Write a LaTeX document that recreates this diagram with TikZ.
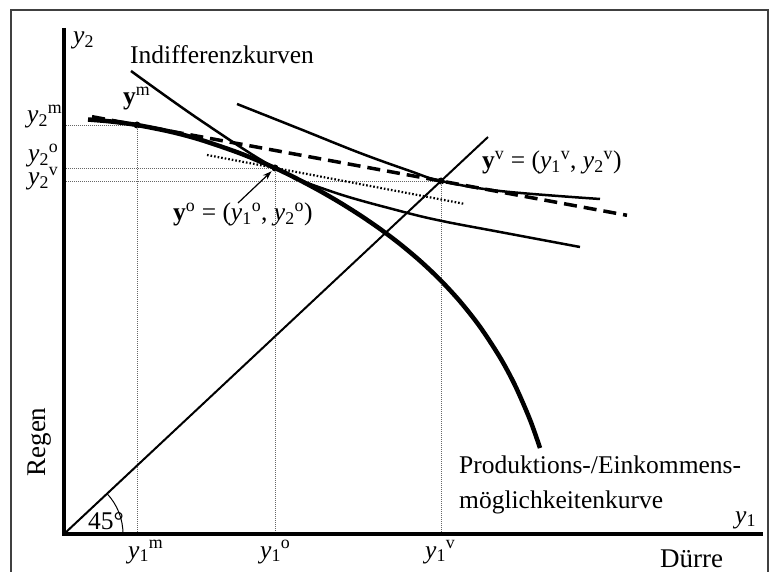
\documentclass[tikz,border=0pt]{standalone}
\usepackage{fontspec}
\setmainfont{Liberation Serif}
\usetikzlibrary{arrows.meta}
\newcommand\yvar[2]{\textit{y}\textsubscript{#1}\textsuperscript{#2}}
\begin{document}
\begin{tikzpicture}[x=1pt,y=-1pt,
  font=\fontsize{25.5}{30}\selectfont,
  axis/.style={line width=3.3pt},
  ppf/.style={line width=4.5pt},
  ic/.style={line width=2.5pt},
  diag/.style={line width=2pt},
  guide/.style={line width=0.8pt, black!60, dash pattern=on 1pt off 1pt},
  budget/.style={line width=3.5pt, dash pattern=on 13pt off 7pt},
  tangent/.style={line width=2.2pt, dash pattern=on 1.6pt off 2pt},
  dot/.style={circle, fill, inner sep=0pt, minimum size=7pt},
  lbl/.style={inner sep=0pt},
  frame/.style={black!75, line width=1.6pt}]
\useasboundingbox (0,0) rectangle (769,572);
\fill[white] (0,0) rectangle (769,572);
% frame
\coordinate (f1) at (11,572);
\coordinate (f2) at (11,10);
\coordinate (f3) at (768,10);
\coordinate (f4) at (768,572);
\draw[frame] (f1) -- (f2) -- (f3) -- (f4);
% axes
\coordinate (O) at (64,534);
\coordinate (ytop) at (64,28);
\coordinate (xend) at (763,534);
% points
\node[dot] (ym) at (137,125) {};
\node[dot] (yo) at (275,168) {};
\node[dot] (yv) at (441,181) {};
% guides
\draw[guide] (ym.center) -- (ym.center -| O);
\draw[guide] (yo.center) -- (yo.center -| O);
\draw[guide] (yv.center) -- (yv.center -| O);
\draw[guide] (ym.center) -- (ym.center |- O);
\draw[guide] (yo.center) -- (yo.center |- O);
\draw[guide] (yv.center) -- (yv.center |- O);
% 45 degree line
\coordinate (dtop) at (488,137);
\draw[diag] (O) -- (dtop);
\draw[line width=1pt] (O) ++(59pt,0pt) arc[start angle=0, end angle=43, radius=59pt];
% budget (dashed) line through ym and yv
\coordinate (b1) at (92,116.7);
\coordinate (b2) at (627,215.3);
\draw[budget] (b1) -- (b2);
% dotted tangent through yo
\coordinate (t1) at (207,155);
\coordinate (t2) at (465,204);
\draw[tangent] (t1) -- (t2);
% indifference curves
\draw[ic] plot[smooth, tension=0.6] coordinates {(131,71) (200,120) (275,168) (333,192) (400,211) (442,221) (500,232) (580,247)};
\draw[ic] plot[smooth, tension=0.6] coordinates {(237,104) (300,129) (360,153) (410,171) (441,181) (500,191) (600,199)};
% production possibility curve
\draw[ppf] plot[smooth, tension=0.5] coordinates {(88,119.5) (112,121.6) (137,125) (170,131.6) (200,139.6) (240,153.3) (275,168) (300,180.3) (320,191) (340,202.6) (360,215.2) (380,228.9) (400,244) (420,260.8) (440,279.7) (460,301.4) (480,326.8) (500,357.4) (515,385.3) (530,419.7) (540,448)};
% axes on top
\draw[axis] (ytop) -- (O) -- (xend);
% arrow
\coordinate (arrS) at (238,203);
\draw[line width=1.2pt, -{Stealth[length=9pt,width=6pt]}, shorten >=1pt] (arrS) -- (yo);
% labels
\node[lbl, anchor=base west] (ly2) at (73,44) {\textit{y}\textsubscript{2}};
\node[lbl, anchor=base west] (lind) at (130,64) {Indifferenzkurven};
\node[lbl, anchor=base west] (ly2m) at (27,123) {\yvar{2}{m}};
\node[lbl, anchor=base west] (ly2o) at (28,162) {\yvar{2}{o}};
\node[lbl, anchor=base west] (ly2v) at (28,185) {\yvar{2}{v}};
\node[lbl, anchor=base west] (lym) at (123,105) {\textbf{y}\textsuperscript{m}};
\node[lbl, anchor=base west] (lyo) at (173,221) {\textbf{y}\textsuperscript{o} = (\yvar{1}{o}, \yvar{2}{o})};
\node[lbl, anchor=base west] (lyv) at (482,169) {\textbf{y}\textsuperscript{v} = (\yvar{1}{v}, \yvar{2}{v})};
\node[lbl, anchor=base west] (ly1m) at (128,558) {\yvar{1}{m}};
\node[lbl, anchor=base west] (ly1o) at (260,558) {\yvar{1}{o}};
\node[lbl, anchor=base west] (ly1v) at (425,558) {\yvar{1}{v}};
\node[lbl, anchor=base west] (ly1) at (735,523) {\textit{y}\textsubscript{1}};
\node[lbl, anchor=base west, font=\fontsize{27}{32}\selectfont] (ldur) at (660,567) {Dürre};
\node[lbl, rotate=90, font=\fontsize{27}{32}\selectfont] (lreg) at (40,442) {Regen};
\node[lbl, anchor=base west] (lprod1) at (459,473) {Produktions-/Einkommens-};
\node[lbl, anchor=base west] (lprod2) at (459,508) {möglichkeitenkurve};
\node[lbl, anchor=base west] (l45) at (88,529) {45°};
\end{tikzpicture}
\end{document}
